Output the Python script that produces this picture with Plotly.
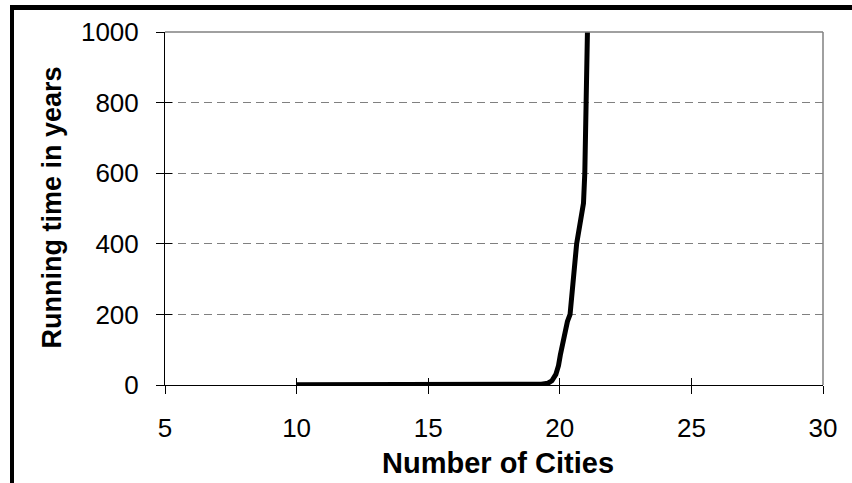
import plotly.graph_objects as go

# Data
num_cities = [10, 12, 14, 16, 18, 19, 19.3, 19.55, 19.7, 19.85, 19.95, 20.02, 20.08,
              20.18, 20.29, 20.39, 20.64, 20.9, 20.95, 21.0, 21.05]
running_years = [0.5, 0.5, 0.5, 0.5, 0.5, 0.8, 2, 5, 12, 30, 55, 85, 110,
                 150, 180, 200, 400, 515, 600, 800, 1000]

x_ticks = [5, 10, 15, 20, 25, 30]
y_ticks = [0, 200, 400, 600, 800, 1000]
x_title = "Number of Cities"
y_title = "Running time in years"

FONT = "Liberation Sans, Arial, sans-serif"

fig = go.Figure()
fig.add_trace(go.Scatter(x=num_cities, y=running_years, mode="lines",
                         line=dict(color="black", width=5), showlegend=False))
# invisible trace on overlay axes for inner tick marks
fig.add_trace(go.Scatter(x=[5, 30], y=[0, 1000], xaxis="x2", yaxis="y2",
                         mode="markers", marker=dict(opacity=0), showlegend=False,
                         hoverinfo="skip"))

L, R, T, B = 165, 823, 32, 385
W, H = 852, 483

fig.update_layout(
    width=W, height=H,
    margin=dict(l=L, r=W - R, t=T, b=H - B),
    paper_bgcolor="white", plot_bgcolor="white",
    font=dict(family=FONT, size=26, color="black"),
    xaxis=dict(range=[5, 30], tickvals=x_ticks, ticks="outside", ticklen=8,
               tickcolor="black", showline=True, linecolor="black", linewidth=1,
               showgrid=False, zeroline=False, ticklabelstandoff=12,
               tickfont=dict(size=26)),
    yaxis=dict(range=[0, 1000], tickvals=y_ticks, ticks="outside", ticklen=8,
               tickcolor="black", showline=True, linecolor="black", linewidth=1,
               showgrid=True, gridcolor="#808080", griddash="8px,5px", gridwidth=1.2,
               zeroline=False, ticklabelstandoff=12, tickfont=dict(size=26)),
    xaxis2=dict(range=[5, 30], tickvals=x_ticks, ticks="inside", ticklen=7,
                tickcolor="black", overlaying="x", showticklabels=False,
                showgrid=False, zeroline=False, showline=False),
    yaxis2=dict(range=[0, 1000], tickvals=y_ticks, ticks="inside", ticklen=7,
                tickcolor="black", overlaying="y", showticklabels=False,
                showgrid=False, zeroline=False, showline=False),
)

pw, ph = R - L, B - T
def px2x(p):
    return (p - L) / pw
def px2y(p):
    return (B - p) / ph

shapes = [
    # gray plot border top/right
    dict(type="line", xref="paper", yref="paper", x0=0, x1=1, y0=1, y1=1,
         line=dict(color="#808080", width=1.5)),
    dict(type="line", xref="paper", yref="paper", x0=1, x1=1, y0=0, y1=1,
         line=dict(color="#808080", width=1.5)),
    # outer black frame (top and left)
    dict(type="line", xref="paper", yref="paper", x0=px2x(10), x1=px2x(W + 5),
         y0=px2y(7.5), y1=px2y(7.5), line=dict(color="black", width=5)),
    dict(type="line", xref="paper", yref="paper", x0=px2x(12), x1=px2x(12),
         y0=px2y(5), y1=px2y(H + 5), line=dict(color="black", width=4)),
]
fig.update_layout(shapes=shapes)

fig.add_annotation(text="<b>%s</b>" % x_title, xref="paper", yref="paper",
                   x=px2x(497.5), y=px2y(463), xanchor="center", yanchor="middle",
                   showarrow=False, font=dict(family=FONT, size=29, color="black"))
fig.add_annotation(text="<b>%s</b>" % y_title, xref="paper", yref="paper",
                   x=px2x(52), y=px2y(207.5), xanchor="center", yanchor="middle",
                   textangle=-90, showarrow=False,
                   font=dict(family=FONT, size=27, color="black"))

fig.write_html("out.html", config={"displayModeBar": False},
               post_script="document.body.style.margin='0';"
                           "document.body.style.overflow='hidden';")
